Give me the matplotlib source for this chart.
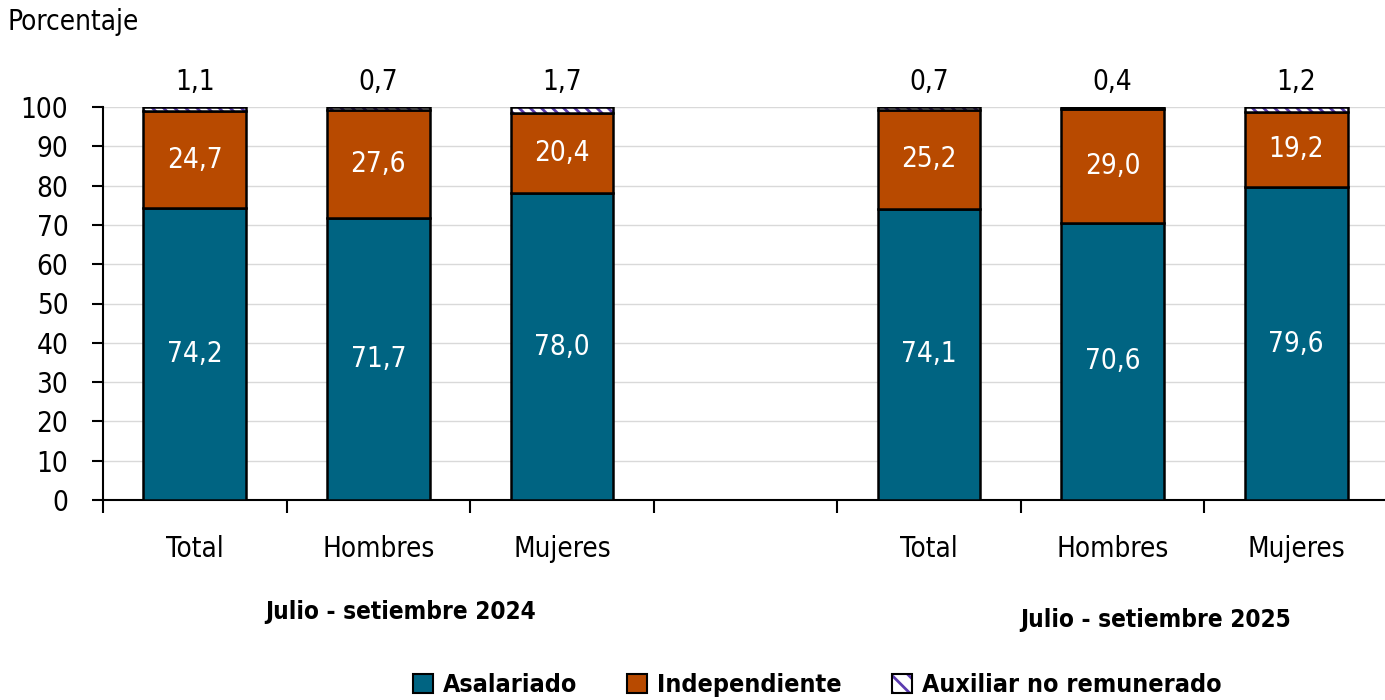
import matplotlib.pyplot as plt
from matplotlib.patches import Patch
from matplotlib.legend_handler import HandlerTuple

plt.rcParams['font.family'] = ['DejaVu Sans']
plt.rcParams['font.stretch'] = 'condensed'
plt.rcParams['hatch.linewidth'] = 2.0

# Data
categorias = ['Total', 'Hombres', 'Mujeres', 'Total', 'Hombres', 'Mujeres']
periodos = ['Julio - setiembre 2024', 'Julio - setiembre 2025']
asalariado = [74.2, 71.7, 78.0, 74.1, 70.6, 79.6]
independiente = [24.7, 27.6, 20.4, 25.2, 29.0, 19.2]
auxiliar = [1.1, 0.7, 1.7, 0.7, 0.4, 1.2]

# slot 3 is left empty between the two periods
pos = [0, 1, 2, 4, 5, 6]

c_asal = '#006482'
c_indep = '#B84A00'
c_aux = '#5B3BAF'

def fmt(v):
    return f'{v:.1f}'.replace('.', ',')

fig = plt.figure(figsize=(13.85, 7), dpi=100)
ax = fig.add_axes([103/1385, 200/700, 1285/1385, 393/700])

w = 0.56
lw = 1.8
ax.bar(pos, asalariado, w, color=c_asal, edgecolor='black', linewidth=lw, zorder=3)
ax.bar(pos, independiente, w, bottom=asalariado, color=c_indep, edgecolor='black',
       linewidth=lw, zorder=3)
base = [a + b for a, b in zip(asalariado, independiente)]
ax.bar(pos, auxiliar, w, bottom=base, color='white', edgecolor=c_aux, hatch='\\\\\\',
       linewidth=0, zorder=3)
ax.bar(pos, auxiliar, w, bottom=base, fill=False, edgecolor='black', linewidth=lw, zorder=4)

for i, p in enumerate(pos):
    ax.text(p, asalariado[i] / 2, fmt(asalariado[i]), ha='center', va='center',
            color='white', fontsize=20, zorder=5)
    ax.text(p, asalariado[i] + independiente[i] / 2, fmt(independiente[i]), ha='center',
            va='center', color='white', fontsize=20, zorder=5)
    ax.annotate(fmt(auxiliar[i]), (p, 100), xytext=(0, 8), textcoords='offset points',
                ha='center', va='bottom', fontsize=20)

ax.set_xlim(-0.5, 6.5)
ax.set_ylim(0, 100)
ax.set_yticks(range(0, 101, 10))
ax.yaxis.grid(True, color='#D9D9D9', linewidth=1, zorder=0)
ax.set_axisbelow(True)

ax.set_xticks([x - 0.5 for x in range(8)])
ax.set_xticklabels([])
ax.set_xticks(pos, minor=True)
ax.set_xticklabels(categorias, minor=True)
ax.tick_params(axis='x', which='major', direction='out', length=9, width=1.5)
ax.tick_params(axis='x', which='minor', length=0, pad=25, labelsize=20)
ax.tick_params(axis='y', direction='out', length=8, width=1.5, pad=17, labelsize=20)

for s in ['top', 'right']:
    ax.spines[s].set_visible(False)
for s in ['left', 'bottom']:
    ax.spines[s].set_linewidth(1.5)

ax.text(1.12, -0.285, periodos[0], transform=ax.get_xaxis_transform(), ha='center',
        va='center', fontsize=17.5, fontweight='bold')
ax.text(5.235, -0.305, periodos[1], transform=ax.get_xaxis_transform(), ha='center',
        va='center', fontsize=17.5, fontweight='bold')

fig.text(8/1385, 1 - 22/700, 'Porcentaje', ha='left', va='center', fontsize=20)

h1 = Patch(facecolor=c_asal, edgecolor='black', linewidth=1.5)
h2 = Patch(facecolor=c_indep, edgecolor='black', linewidth=1.5)
h3a = Patch(facecolor='white', edgecolor=c_aux, hatch='\\\\', linewidth=0)
h3b = Patch(fill=False, edgecolor='black', linewidth=1.5)
fig.legend([h1, h2, (h3a, h3b)], ['Asalariado', 'Independiente', 'Auxiliar no remunerado'],
           handler_map={tuple: HandlerTuple(ndivide=1, pad=0)},
           loc='center', bbox_to_anchor=(817/1385, 1 - 685/700), ncol=3, frameon=False,
           handlelength=0.8, handleheight=0.8, handletextpad=0.4, columnspacing=2.0,
           prop={'size': 18, 'weight': 'bold'})

fig.savefig('out.png', dpi=100)
